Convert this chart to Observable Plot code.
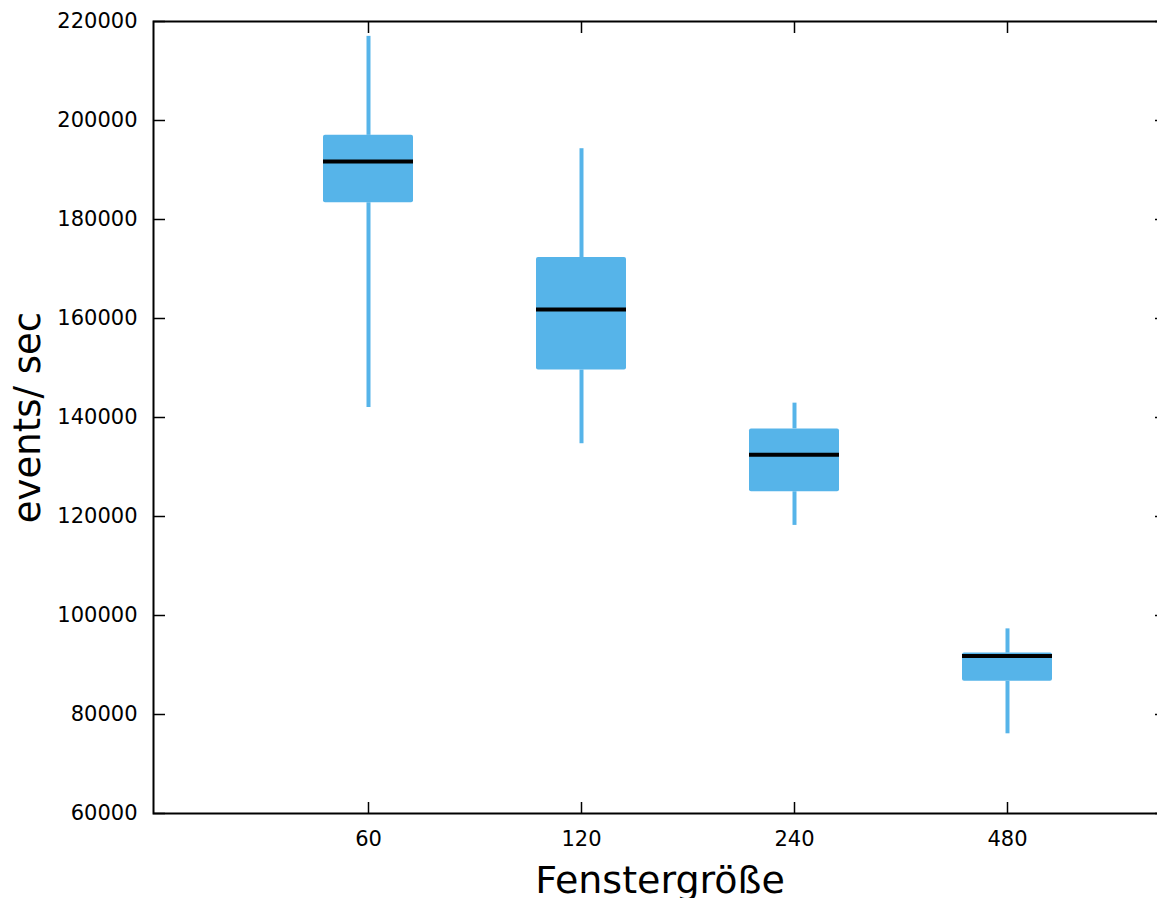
<!DOCTYPE html>
<html>
<head>
<meta charset="utf-8">
<script src="https://cdn.jsdelivr.net/npm/d3@7"></script>
<script src="https://cdn.jsdelivr.net/npm/@observablehq/plot@0.6"></script>
<style>
  html, body { margin: 0; padding: 0; background: white; }
  #chart { width: 1157px; height: 898px; overflow: hidden; }
  #chart svg { max-width: none; }
</style>
</head>
<body>
<div id="chart"></div>
<script>
// Throughput (events per second) by window size, as box plots
const windowSizes = ["60", "120", "240", "480"];
const whiskerLow  = [142000, 134700, 118200, 76100];
const quartile1   = [183400, 149600, 125000, 86700];
const medians     = [191700, 161800, 132500, 91800];
const quartile3   = [197000, 172300, 137700, 92400];
const whiskerHigh = [217000, 194300, 142900, 97300];
const yTicks = [60000, 80000, 100000, 120000, 140000, 160000, 180000, 200000, 220000];

const boxes = windowSizes.map((size, i) => ({
  size,
  lo: whiskerLow[i],
  q1: quartile1[i],
  median: medians[i],
  q3: quartile3[i],
  hi: whiskerHigh[i]
}));

const boxColor = "#56B4E9";
const font = "DejaVu Sans";

const chart = Plot.plot({
  width: 1180,
  height: 898,
  marginLeft: 153,
  marginRight: 14,
  marginTop: 21,
  marginBottom: 85,
  style: {fontFamily: font, fontSize: "21px", color: "black", background: "white"},
  x: {type: "band", domain: windowSizes, paddingInner: 0.578, paddingOuter: 0.66, align: 0.6},
  y: {domain: [60000, 220000]},
  marks: [
    // whiskers
    Plot.ruleX(boxes, {x: "size", y1: "lo", y2: "q1", stroke: boxColor, strokeWidth: 4}),
    Plot.ruleX(boxes, {x: "size", y1: "q3", y2: "hi", stroke: boxColor, strokeWidth: 4}),
    // interquartile boxes
    Plot.barY(boxes, {x: "size", y1: "q1", y2: "q3", fill: boxColor, rx: 2}),
    // medians
    Plot.tickY(boxes, {x: "size", y: "median", stroke: "black", strokeWidth: 4}),
    // frame and inward ticks on all four sides
    Plot.frame({stroke: "black", strokeWidth: 2}),
    Plot.axisY(yTicks, {anchor: "left", tickSize: -12, fill: "none", label: null, strokeWidth: 1.5}),
    Plot.axisY(yTicks, {anchor: "right", tickSize: -12, fill: "none", label: null, strokeWidth: 1.5}),
    Plot.axisX({anchor: "bottom", tickSize: -11, fill: "none", label: null, strokeWidth: 1.5}),
    Plot.axisX({anchor: "top", tickSize: -11, fill: "none", label: null, strokeWidth: 1.5}),
    // tick labels
    Plot.axisY(yTicks, {anchor: "left", tickSize: 0, tickPadding: 16, tickFormat: d => String(d), label: null, fontSize: 21, fill: "black"}),
    Plot.axisX({anchor: "bottom", tickSize: 0, tickPadding: 18, label: null, fontSize: 21, fill: "black"}),
    // axis titles
    Plot.text(["events/ sec"], {text: d => d, frameAnchor: "left", textAnchor: "middle", lineAnchor: "middle", dx: -125, rotate: -90, fontSize: 37, fill: "black"}),
    Plot.text(["Fenstergröße"], {text: d => d, frameAnchor: "bottom", textAnchor: "middle", lineAnchor: "middle", dy: 67, fontSize: 38, fill: "black"})
  ]
});

chart.style.maxWidth = "none";
chart.style.overflow = "hidden";
document.getElementById("chart").appendChild(chart);
</script>
</body>
</html>
